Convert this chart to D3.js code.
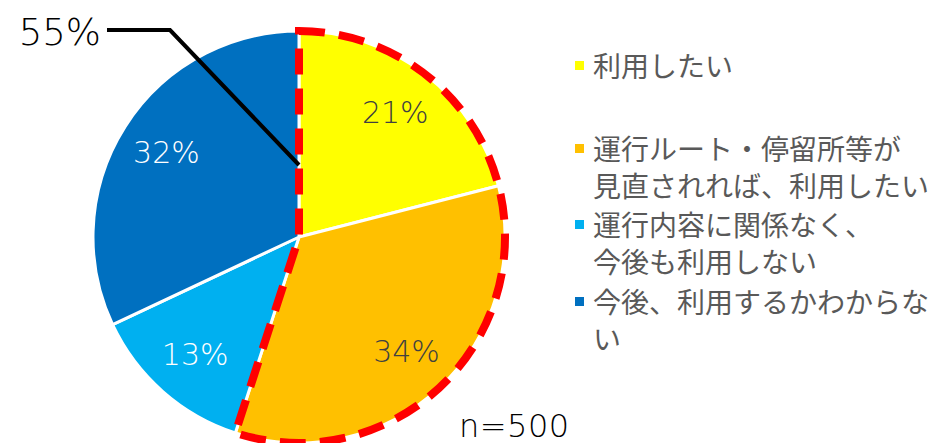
<!DOCTYPE html>
<html>
<head>
<meta charset="utf-8">
<script src="https://cdn.jsdelivr.net/npm/d3@7"></script>
<style>
  body { margin: 0; background: #fff; }
  svg { display: block; }
</style>
</head>
<body>
<svg id="chart" width="937" height="443"></svg>
<script>
// Chart data
const categories = [
    "利用したい",
    "運行ルート・停留所等が見直されれば、利用したい",
    "運行内容に関係なく、今後も利用しない",
    "今後、利用するかわからない"
];
const values = [21, 34, 13, 32];
const colors = ["#FFFF00", "#FFC000", "#00B0F0", "#0070C0"];
const labelColors = ["#404040", "#404040", "#FFFFFF", "#FFFFFF"];
// legend lines as wrapped in the picture
const legendLines = [
    ["利用したい"],
    ["運行ルート・停留所等が", "見直されれば、利用したい"],
    ["運行内容に関係なく、", "今後も利用しない"],
    ["今後、利用するかわからな", "い"]
];
const highlightShare = 55;  // first two slices combined
const sampleLabel = "n=500";

const svg = d3.select("#chart");
const jpFont = "'Noto Sans CJK JP', 'Noto Sans', sans-serif";
const numFont = "'DejaVu Sans', 'Noto Sans', sans-serif";

const cx = 299, cy = 237, R = 206;

const pie = d3.pie().sort(null).value(d => d);
const arcs = pie(values);
const arc = d3.arc().innerRadius(0).outerRadius(R);
const labelArc = d3.arc().innerRadius(157).outerRadius(157);

const g = svg.append("g").attr("transform", `translate(${cx},${cy})`);

// slices
g.selectAll("path.slice")
    .data(arcs)
    .enter()
    .append("path")
    .attr("class", "slice")
    .attr("d", arc)
    .attr("fill", (d, i) => colors[i])
    .attr("stroke", "#fff")
    .attr("stroke-width", 3)
    .attr("stroke-linejoin", "round");

// slice labels
g.selectAll("text.pct")
    .data(arcs)
    .enter()
    .append("text")
    .attr("class", "pct")
    .attr("transform", d => `translate(${labelArc.centroid(d)})`)
    .attr("text-anchor", "middle")
    .attr("dominant-baseline", "central")
    .attr("font-family", numFont)
    .attr("font-weight", 300)
    .attr("font-size", 30)
    .attr("fill", (d, i) => labelColors[i])
    .text(d => d.data + "%");

// red dashed outline around the first two slices
const endAngle = arcs[1].endAngle;
g.append("path")
    .attr("d", d3.arc().innerRadius(0).outerRadius(R)({ startAngle: 0, endAngle: endAngle }))
    .attr("fill", "none")
    .attr("stroke", "#FF0000")
    .attr("stroke-width", 8)
    .attr("stroke-dasharray", "26,14");

// leader line for the combined share
const start = [0, -72];
svg.append("polyline")
    .attr("points", [[cx + start[0], cy + start[1]], [170, 30], [107, 30]].map(p => p.join(",")).join(" "))
    .attr("fill", "none")
    .attr("stroke", "#000")
    .attr("stroke-width", 4);

svg.append("text")
    .attr("x", 101)
    .attr("y", 45)
    .attr("text-anchor", "end")
    .attr("font-family", numFont)
    .attr("font-weight", 300)
    .attr("font-size", 37)
    .attr("fill", "#000")
    .text(highlightShare + "%");

// legend
const legendX = 575;
const legendY = [65, 148, 224, 301];
const lineGap = 37;
const legend = svg.append("g");
legendLines.forEach((lines, i) => {
    legend.append("rect")
        .attr("x", legendX)
        .attr("y", legendY[i] - 4)
        .attr("width", 9)
        .attr("height", 9)
        .attr("fill", colors[i]);
    lines.forEach((t, j) => {
        legend.append("text")
            .attr("x", legendX + 18)
            .attr("y", legendY[i] + j * lineGap)
            .attr("dominant-baseline", "central")
            .attr("font-family", jpFont)
            .attr("font-size", 28)
            .attr("fill", "#595959")
            .text(t);
    });
});

// sample size
svg.append("text")
    .attr("x", 459)
    .attr("y", 437)
    .attr("font-family", numFont)
    .attr("font-weight", 300)
    .attr("font-size", 32)
    .attr("letter-spacing", 0.5)
    .attr("fill", "#000")
    .text(sampleLabel);
</script>
</body>
</html>
